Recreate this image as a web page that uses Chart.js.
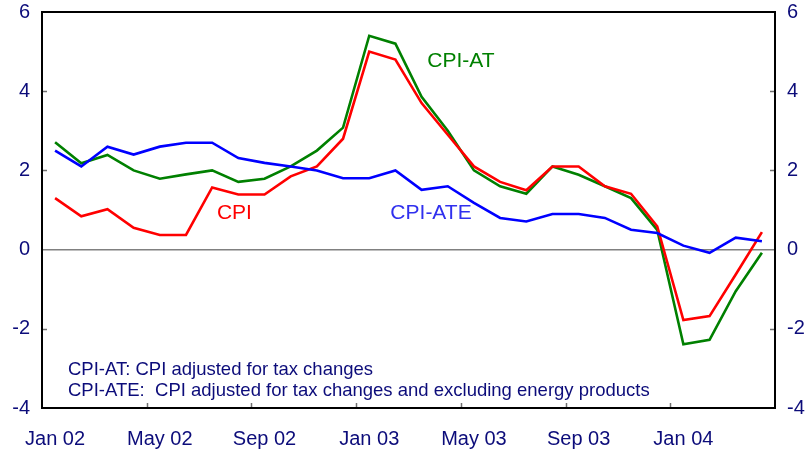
<!DOCTYPE html>
<html>
<head>
<meta charset="utf-8">
<script src="https://cdn.jsdelivr.net/npm/chart.js@4"></script>
<style>
  html, body { margin: 0; padding: 0; background: #ffffff; }
  #wrap { width: 811px; height: 454px; position: relative; }
</style>
</head>
<body>
<div id="wrap"><canvas id="cpiChart"></canvas></div>
<script>
// Months Jan 02 .. Apr 04
const months = [
    'Jan 02', 'Feb 02', 'Mar 02', 'Apr 02', 'May 02', 'Jun 02', 'Jul 02', 'Aug 02', 'Sep 02', 'Oct 02', 'Nov 02', 'Dec 02',
    'Jan 03', 'Feb 03', 'Mar 03', 'Apr 03', 'May 03', 'Jun 03', 'Jul 03', 'Aug 03', 'Sep 03', 'Oct 03', 'Nov 03', 'Dec 03',
    'Jan 04', 'Feb 04', 'Mar 04', 'Apr 04'
];

const cpi = [1.3, 0.84, 1.02, 0.55, 0.37, 0.37, 1.57, 1.39, 1.39, 1.85, 2.1, 2.8,
    5.0, 4.8, 3.7, 2.9, 2.1, 1.71, 1.5, 2.1, 2.1, 1.6, 1.41, 0.59,
    -1.78, -1.68, -0.63, 0.44];

const cpiAT = [2.71, 2.18, 2.39, 2.0, 1.79, 1.9, 2.0, 1.71, 1.79, 2.1, 2.5, 3.08,
    5.4, 5.2, 3.86, 3.0, 2.0, 1.6, 1.41, 2.1, 1.89, 1.6, 1.3, 0.5,
    -2.39, -2.28, -1.05, -0.08];

const cpiATE = [2.5, 2.1, 2.6, 2.4, 2.6, 2.7, 2.7, 2.31, 2.19, 2.1, 2.0, 1.8,
    1.8, 2.0, 1.51, 1.6, 1.18, 0.8, 0.71, 0.9, 0.9, 0.8, 0.5, 0.42,
    0.1, -0.08, 0.3, 0.21];

const yTicks = [-4, -2, 0, 2, 4, 6];

const navy = '#0c0c7a';
const fontFamily = '"Liberation Sans", Arial, sans-serif';

// Frame, inner tick marks and text labels
const decorations = {
    id: 'decorations',
    afterDatasetsDraw(chart) {
        let ctx = chart.ctx;
        let area = chart.chartArea;
        let x = chart.scales.x;
        let y = chart.scales.y;
        ctx.save();

        // inner tick marks on y axes
        ctx.strokeStyle = '#707070';
        ctx.lineWidth = 1.5;
        yTicks.forEach(v => {
            if (v === -4 || v === 6 || v === 0) return;
            let py = Math.round(y.getPixelForValue(v)) + 0.5;
            ctx.beginPath();
            ctx.moveTo(area.left, py);
            ctx.lineTo(area.left + 5, py);
            ctx.moveTo(area.right, py);
            ctx.lineTo(area.right - 5, py);
            ctx.stroke();
        });

        // inner tick marks on x axis at every 4th month boundary
        let step = x.getPixelForValue(1) - x.getPixelForValue(0);
        for (let i = 4; i < months.length; i += 4) {
            let px = Math.round(x.getPixelForValue(i) - step / 2) + 0.5;
            ctx.beginPath();
            ctx.moveTo(px, area.bottom);
            ctx.lineTo(px, area.bottom - 5);
            ctx.stroke();
        }

        // frame
        ctx.strokeStyle = '#000000';
        ctx.lineWidth = 2;
        ctx.strokeRect(area.left, area.top, area.right - area.left, area.bottom - area.top);

        // series labels
        ctx.font = '21px ' + fontFamily;
        ctx.textAlign = 'center';
        ctx.textBaseline = 'middle';
        ctx.fillStyle = '#ff0000';
        ctx.fillText('CPI', x.getPixelForValue(6.85), y.getPixelForValue(0.93));
        ctx.fillStyle = '#3030ee';
        ctx.fillText('CPI-ATE', x.getPixelForValue(14.36), y.getPixelForValue(0.93));
        ctx.fillStyle = '#008000';
        ctx.fillText('CPI-AT', x.getPixelForValue(15.5), y.getPixelForValue(4.75));

        // notes
        ctx.font = '18.5px ' + fontFamily;
        ctx.textAlign = 'left';
        ctx.fillStyle = navy;
        ctx.fillText('CPI-AT: CPI adjusted for tax changes', 68, 370);
        ctx.fillText('CPI-ATE:  CPI adjusted for tax changes and excluding energy products', 68, 391);
        ctx.restore();
    }
};

function fixedWidth(w) {
    return function (scale) {
        scale.width = w;
        scale.paddingTop = 0;
        scale.paddingBottom = 0;
    };
}

let ctx = document.getElementById('cpiChart').getContext('2d');
let cpiChart = new Chart(ctx, {
    type: 'line',
    data: {
        labels: months,
        datasets: [
            { label: 'CPI-ATE', data: cpiATE, borderColor: '#0000ff', borderWidth: 2.6 },
            { label: 'CPI', data: cpi, borderColor: '#ff0000', borderWidth: 2.6 },
            { label: 'CPI-AT', data: cpiAT, borderColor: '#008000', borderWidth: 2.6 }
        ]
    },
    options: {
        responsive: true,
        maintainAspectRatio: false,
        animation: false,
        layout: { padding: { top: 12, right: 0, bottom: 0, left: 0 } },
        elements: {
            point: { radius: 0 },
            line: { tension: 0 }
        },
        plugins: {
            legend: { display: false },
            tooltip: { enabled: false }
        },
        scales: {
            x: {
                type: 'category',
                offset: true,
                grid: { display: false },
                border: { display: false },
                ticks: {
                    autoSkip: false,
                    maxRotation: 0,
                    color: navy,
                    font: { family: fontFamily, size: 20 },
                    padding: 11,
                    callback: function (value, index) {
                        return index % 4 === 0 ? months[index] : '';
                    }
                },
                afterFit: function (scale) {
                    scale.height = 46;
                    scale.paddingLeft = 0;
                    scale.paddingRight = 0;
                }
            },
            y: {
                position: 'left',
                min: -4,
                max: 6,
                afterBuildTicks: function (scale) {
                    scale.ticks = yTicks.map(v => ({ value: v }));
                },
                grid: {
                    drawTicks: false,
                    color: ctx => ctx.tick && ctx.tick.value === 0 ? '#808080' : 'rgba(0,0,0,0)',
                    lineWidth: 1.5
                },
                border: { display: false },
                ticks: {
                    color: navy,
                    font: { family: fontFamily, size: 20 },
                    padding: 12
                },
                afterFit: fixedWidth(42)
            },
            y2: {
                position: 'right',
                min: -4,
                max: 6,
                afterBuildTicks: function (scale) {
                    scale.ticks = yTicks.map(v => ({ value: v }));
                },
                grid: { display: false, drawTicks: false },
                border: { display: false },
                ticks: {
                    color: navy,
                    font: { family: fontFamily, size: 20 },
                    padding: 12
                },
                afterFit: fixedWidth(36)
            }
        }
    },
    plugins: [decorations]
});
</script>
</body>
</html>
